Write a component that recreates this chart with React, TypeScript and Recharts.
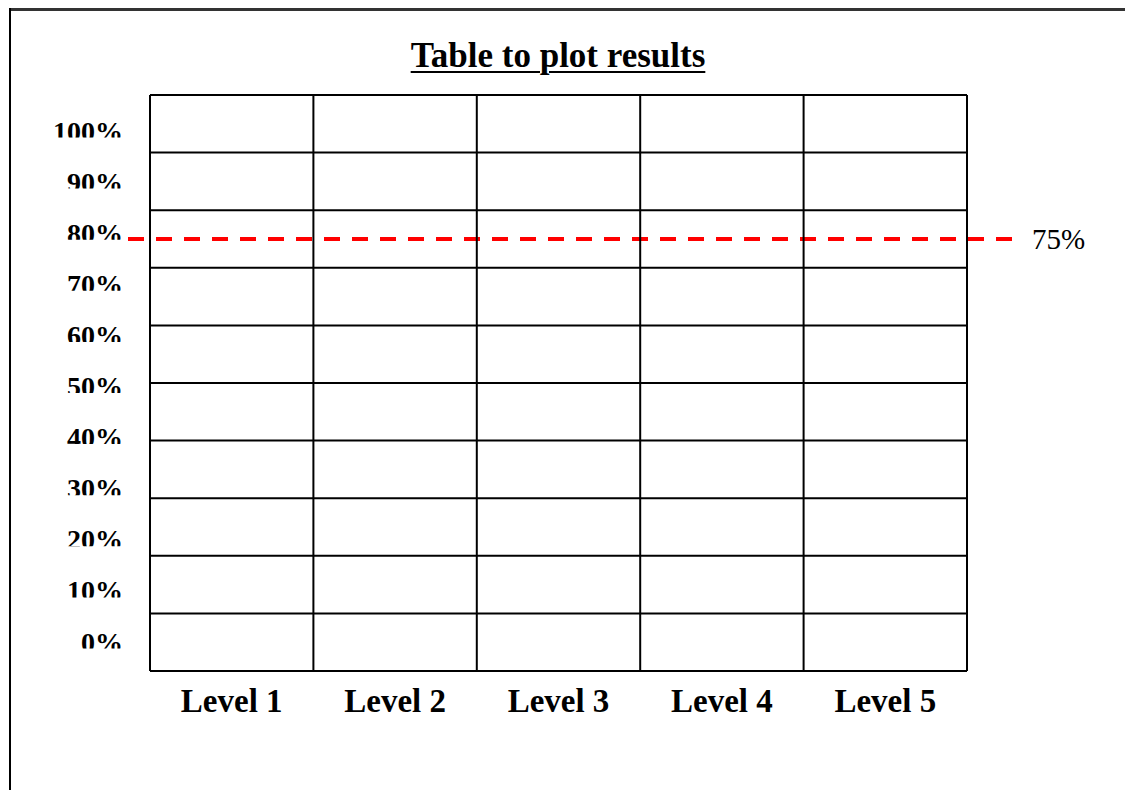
import React from "react";
import {
  ComposedChart,
  XAxis,
  YAxis,
  CartesianGrid,
  ReferenceLine,
  Line,
} from "recharts";

// ---- data ----
const levels: string[] = ["Level 1", "Level 2", "Level 3", "Level 4", "Level 5"];
// the table is blank: no results plotted yet
const results: (number | null)[] = [null, null, null, null, null];
const percentLabels: string[] = ["0%", "10%", "20%", "30%", "40%", "50%", "60%", "70%", "80%", "90%", "100%"];
const gridValueTicks: number[] = [0, 10, 20, 30, 40, 50, 60, 70, 80, 90, 100];
const labelIndexTicks: number[] = [0, 1, 2, 3, 4, 5, 6, 7, 8, 9, 10];
const targetValue = 75;
const targetLabel = "75%";
const titleText = "Table to plot results";

const chartData = levels.map((level, i) => ({ level, result: results[i], idx: i }));

const SERIF = "'Liberation Serif', 'Times New Roman', serif";

const YTick = (props: any) => {
  const { x, y, payload } = props;
  const idx = payload.value as number;
  const baseline = y + 9.5;
  const clipId = `ylab-clip-${idx}`;
  return (
    <g>
      <defs>
        <clipPath id={clipId}>
          <rect x={0} y={y - 25} width={150} height={baseline - 3 - (y - 25)} />
        </clipPath>
      </defs>
      <text
        x={x - 27}
        y={baseline}
        textAnchor="end"
        clipPath={`url(#${clipId})`}
        style={{ fontFamily: SERIF, fontWeight: 700, fontSize: 28, fill: "#000" }}
      >
        {percentLabels[idx]}
      </text>
    </g>
  );
};

const XTick = (props: any) => {
  const { x, y, payload } = props;
  return (
    <text
      x={x}
      y={y + 41}
      textAnchor="middle"
      style={{ fontFamily: SERIF, fontWeight: 700, fontSize: 33, fill: "#000" }}
    >
      {payload.value}
    </text>
  );
};

const TargetLine = (props: any) => {
  const { x1, y1, x2, y2 } = props;
  return (
    <g>
      <line
        x1={x1 - 22}
        y1={y1}
        x2={x2 + 45}
        y2={y2}
        stroke="#FF0000"
        strokeWidth={4}
        strokeDasharray="16 12"
      />
      <text
        x={x2 + 65}
        y={y2 + 10}
        textAnchor="start"
        style={{ fontFamily: SERIF, fontWeight: 400, fontSize: 29, fill: "#000" }}
      >
        {targetLabel}
      </text>
    </g>
  );
};

export default function App() {
  return (
    <div
      style={{
        position: "absolute",
        left: 0,
        top: 0,
        width: 1125,
        height: 790,
        background: "#fff",
        overflow: "hidden",
      }}
    >
      {/* page frame */}
      <div style={{ position: "absolute", left: 9, top: 8, width: 1116, height: 3, background: "#333" }} />
      <div style={{ position: "absolute", left: 9, top: 8, width: 2, height: 782, background: "#000" }} />
      {/* title */}
      <div
        style={{
          position: "absolute",
          left: 0,
          width: 1116,
          top: 37,
          textAlign: "center",
          fontFamily: SERIF,
          fontWeight: 700,
          fontSize: 35,
          lineHeight: "38px",
          textDecoration: "underline",
          textDecorationThickness: 2,
          textUnderlineOffset: 4,
          color: "#000",
        }}
      >
        {titleText}
      </div>
      <div style={{ position: "absolute", left: 0, top: 0 }}>
        <ComposedChart
          width={1125}
          height={790}
          data={chartData}
          margin={{ top: 95, right: 158, bottom: 0, left: 0 }}
        >
          <CartesianGrid
            xAxisId="cat"
            yAxisId="val"
            vertical={false}
            stroke="#000"
            strokeWidth={2}
            strokeOpacity={1}
          />
          <XAxis
            xAxisId="cat"
            dataKey="level"
            type="category"
            scale="band"
            height={119}
            axisLine={false}
            tickLine={false}
            tickSize={0}
            tickMargin={0}
            tick={<XTick />}
            interval={0}
          />
          <YAxis
            yAxisId="val"
            type="number"
            domain={[0, 100]}
            ticks={gridValueTicks}
            allowDataOverflow
            hide
          />
          <YAxis
            yAxisId="lab"
            type="number"
            domain={[0, 10]}
            ticks={labelIndexTicks}
            allowDataOverflow
            width={150}
            padding={{ top: 36, bottom: 29 }}
            axisLine={false}
            tickLine={false}
            tickSize={0}
            tickMargin={0}
            tick={<YTick />}
            interval={0}
          />
          <Line
            xAxisId="cat"
            yAxisId="val"
            dataKey="result"
            stroke="#000"
            dot={false}
            isAnimationActive={false}
          />
          <Line
            xAxisId="cat"
            yAxisId="lab"
            dataKey="idx"
            stroke="none"
            dot={false}
            activeDot={false}
            isAnimationActive={false}
          />
          <ReferenceLine
            xAxisId="cat"
            yAxisId="val"
            y={targetValue}
            stroke="#FF0000"
            ifOverflow="visible"
            shape={<TargetLine />}
          />
          {levels.map((lv) => (
            <ReferenceLine
              key={`start-${lv}`}
              xAxisId="cat"
              yAxisId="val"
              x={lv}
              position="start"
              stroke="#000"
              strokeWidth={2}
              strokeOpacity={1}
            />
          ))}
          <ReferenceLine
            xAxisId="cat"
            yAxisId="val"
            x={levels[levels.length - 1]}
            position="end"
            stroke="#000"
            strokeWidth={2}
            strokeOpacity={1}
          />
        </ComposedChart>
      </div>
    </div>
  );
}
